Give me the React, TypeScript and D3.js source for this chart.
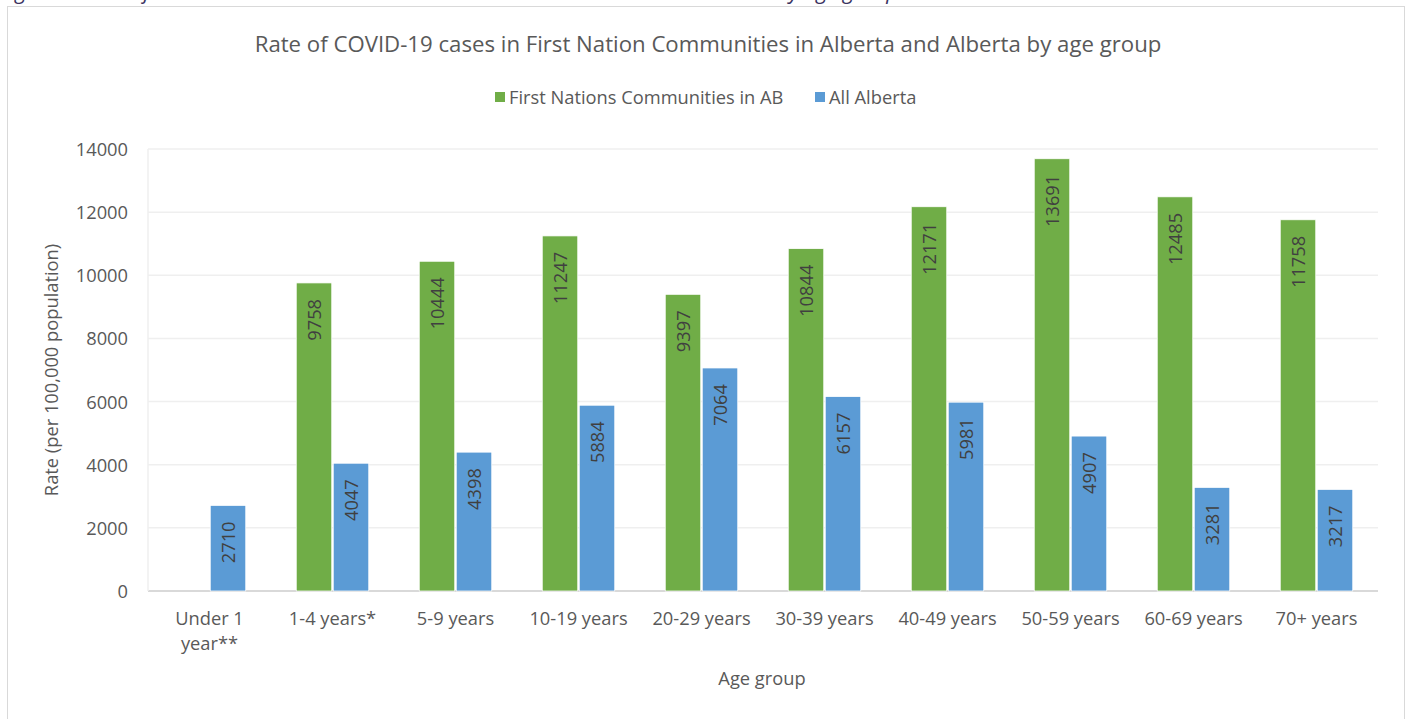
import React from "react";
import * as d3 from "d3";

const categories = ["Under 1|year**", "1-4 years*", "5-9 years", "10-19 years", "20-29 years", "30-39 years", "40-49 years", "50-59 years", "60-69 years", "70+ years"];
const firstNations: (number | null)[] = [null, 9758, 10444, 11247, 9397, 10844, 12171, 13691, 12485, 11758];
const allAlberta = [2710, 4047, 4398, 5884, 7064, 6157, 5981, 4907, 3281, 3217];
const yTicks = [0, 2000, 4000, 6000, 8000, 10000, 12000, 14000];
const seriesNames = ["First Nations Communities in AB", "All Alberta"];
const colors = ["#70ad47", "#5b9bd5"];

const W = 1409, H = 719;
const FONT = "'Open Sans', sans-serif";

export default function App() {
  const x = d3.scaleBand<string>().domain(categories).range([148, 1378]);
  const y = d3.scaleLinear().domain([0, 14000]).range([591, 149]);
  const barW = 35.5;
  const gap = 1.5;
  const textColor = "#595959";
  const labelColor = "#404040";
  const fs = 18.3;

  return (
    <div style={{ position: "absolute", left: 0, top: 0 }}>
      <svg width={W} height={H} style={{ display: "block", fontFamily: FONT }}>
        <rect x={0} y={0} width={W} height={H} fill="#fff" />
        <text x={0} y={-1} fontSize={21} fontStyle="italic" fill="#3b3461">
          Figure 6: Rate of COVID-19 cases in First Nation Communities in Alberta and Alberta by age group
        </text>
        <rect x={7.5} y={6.5} width={1397} height={H} fill="#fff" stroke="#d9d9d9" strokeWidth={1} />
        <text x={708} y={52} textAnchor="middle" fontSize={22.2} fill={textColor}>
          Rate of COVID-19 cases in First Nation Communities in Alberta and Alberta by age group
        </text>
        {/* legend */}
        <g fontSize={fs} fill={textColor}>
          <rect x={495} y={92} width={10} height={10} fill={colors[0]} />
          <text x={509} y={104}>{seriesNames[0]}</text>
          <rect x={815} y={92} width={10} height={10} fill={colors[1]} />
          <text x={829} y={104}>{seriesNames[1]}</text>
        </g>
        {/* gridlines */}
        {yTicks.map((t) => (
          <line key={t} x1={148} x2={1378} y1={y(t)} y2={y(t)} stroke={t === 0 ? "#d9d9d9" : "#efefef"} strokeWidth={t === 0 ? 2 : 1.5} />
        ))}
        <line x1={148} x2={148} y1={y(14000)} y2={y(0)} stroke="#efefef" strokeWidth={1.5} />
        {yTicks.map((t) => (
          <text key={"l" + t} x={128} y={y(t) + 7} textAnchor="end" fontSize={fs} fill={textColor}>{t}</text>
        ))}
        {/* bars */}
        {categories.map((c, i) => {
          const cx = (x(c) as number) + x.bandwidth() / 2;
          const fn = firstNations[i];
          const ab = allAlberta[i];
          return (
            <g key={c}>
              {fn !== null && (
                <g>
                  <rect x={cx - gap / 2 - barW} y={y(fn)} width={barW} height={y(0) - y(fn)} fill={colors[0]} stroke="#fff" strokeWidth={0.75} />
                  <text transform={`translate(${cx - gap / 2 - barW / 2 + 6.5},${y(fn) + 16}) rotate(-90)`} textAnchor="end" fontSize={fs} fill={labelColor}>{fn}</text>
                </g>
              )}
              <rect x={cx + gap / 2} y={y(ab)} width={barW} height={y(0) - y(ab)} fill={colors[1]} stroke="#fff" strokeWidth={0.75} />
              <text transform={`translate(${cx + gap / 2 + barW / 2 + 6.5},${y(ab) + 16}) rotate(-90)`} textAnchor="end" fontSize={fs} fill={labelColor}>{ab}</text>
            </g>
          );
        })}
        {/* x labels */}
        {categories.map((c) => {
          const cx = (x(c) as number) + x.bandwidth() / 2;
          const lines = c.split("|");
          return (
            <text key={"x" + c} x={cx} y={625} textAnchor="middle" fontSize={fs} fill={textColor}>
              {lines.map((l, k) => (
                <tspan key={k} x={cx} dy={k === 0 ? 0 : 25}>{l}</tspan>
              ))}
            </text>
          );
        })}
        <text x={762} y={685} textAnchor="middle" fontSize={fs} fill={textColor}>Age group</text>
        <text transform={`translate(58,370) rotate(-90)`} textAnchor="middle" fontSize={fs} fill={textColor}>Rate (per 100,000 population)</text>
      </svg>
    </div>
  );
}
